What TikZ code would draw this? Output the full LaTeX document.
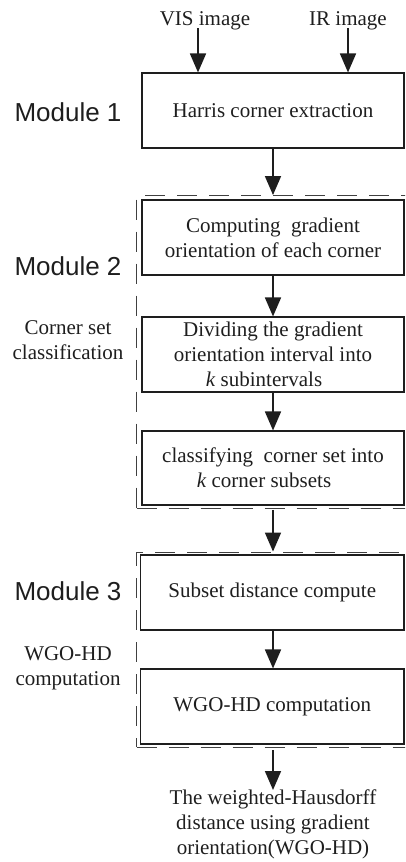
\documentclass[tikz,border=0pt]{standalone}
\usepackage{fontspec}
\setmainfont{Liberation Serif}
\newfontfamily\modfont{Liberation Sans}
\usetikzlibrary{arrows.meta}
\definecolor{ink}{HTML}{1E1E1E}
\begin{document}
\begin{tikzpicture}[x=1pt,y=-1pt,
  txt/.style={font=\fontsize{21}{25}\selectfont, text=ink, inner sep=0pt, align=center},
  modlabel/.style={font=\modfont\fontsize{26}{30}\selectfont, text=ink, inner sep=0pt},
  stepbox/.style={txt, draw=ink, line width=1.1pt, minimum width=262pt, minimum height=75pt},
  group/.style={draw=ink!85, line width=0.9pt, dash pattern=on 20pt off 12pt, minimum width=273.5pt, inner sep=0pt},
  arr/.style={draw=ink, line width=1.7pt, -{Triangle[width=16pt,length=19pt]}}]

\useasboundingbox (0,0) rectangle (405,862);
\clip (0,0) rectangle (405,862);

% dashed module frames (right side runs past the page edge)
\node[group, minimum height=313pt] (g1) at (273.25,352) {};
\node[group, minimum height=195pt] (g2) at (273.25,649.5) {};

% inputs
\node[txt, anchor=base] (vis) at (205,25) {VIS image};
\node[txt, anchor=base] (ir) at (348,25) {IR image};
\coordinate (visin) at (198,28);
\coordinate (irin) at (348,28);

% module 1
\node[stepbox] (harris) at (273,110.5) {Harris corner extraction};
\node[modlabel, anchor=base] (m1) at (68,121) {Module 1};

% module 2
\node[stepbox] (grad) at (273,237.5) {Computing\ \ gradient\\orientation of each corner};
\node[stepbox] (divide) at (273,354.5) {Dividing the gradient\\orientation interval into\\\textit{k} subintervals\hspace*{18pt}};
\node[stepbox, minimum height=74pt] (classify) at (273,468) {classifying\ \ corner set into\\\textit{k} corner subsets\hspace*{18pt}};
\node[modlabel, anchor=base] (m2) at (68,275) {Module 2};
\node[txt] (m2note) at (68,340) {Corner set\\classification};

% module 3
\node[stepbox, minimum width=263.5pt] (subset) at (272.25,592.5) {Subset distance compute};
\node[stepbox, minimum width=263.5pt] (wgo) at (272.25,706.5) {WGO-HD computation};
\node[modlabel, anchor=base] (m3) at (68,600) {Module 3};
\node[txt] (m3note) at (68,668) {WGO-HD\\computation};

% output
\node[txt, anchor=north] (result) at (273,790) {The weighted-Hausdorff\\distance using gradient\\orientation(WGO-HD)};

% connectors
\draw[arr] (visin) -- (visin |- harris.north);
\draw[arr] (irin) -- (irin |- harris.north);
\draw[arr] (harris.south) -- (harris.south |- g1.north);
\draw[arr] (grad) -- (divide);
\draw[arr] (divide) -- (classify);
\draw[arr] ([yshift=-1pt]g1.south -| harris) -- (g2.north -| harris);
\draw[arr] (subset.south -| harris) -- (wgo.north -| harris);
\draw[arr] ([yshift=-3pt]g2.south -| result) -- (result.north);
\end{tikzpicture}
\end{document}
